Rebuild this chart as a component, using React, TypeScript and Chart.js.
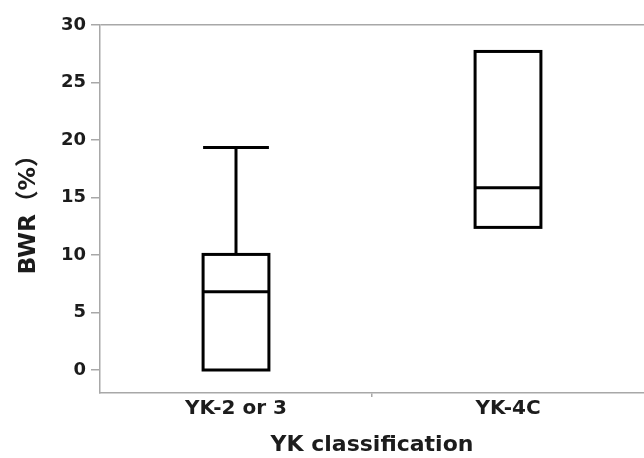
import React, { useEffect, useRef } from 'react';
import { Chart, registerables } from 'chart.js';

Chart.register(...registerables);

const categories = ['YK-2 or 3', 'YK-4C'];
const minValues = [0, 12.4];
const q1Values = [0, 12.4];
const medianValues = [6.8, 15.85];
const q3Values = [10.05, 27.7];
const maxValues = [19.35, 27.7];
const yMin = -2;
const yMax = 30;
const yStep = 5;
const xTitle = 'YK classification';
const yTitle = 'BWR（%）';

const GRAY = '#a8a8a8';
const CLEAR = 'rgba(0,0,0,0)';
const TEXT = '#1c1c1c';
const FONT = "'DejaVu Sans', 'Noto Sans CJK JP', sans-serif";

const boxPlugin = {
  id: 'boxExtras',
  afterDatasetsDraw(chart: any) {
    const meta = chart.getDatasetMeta(0);
    const y = chart.scales.y;
    const ctx = chart.ctx;
    ctx.save();
    ctx.strokeStyle = '#000';
    ctx.lineWidth = 3;
    ctx.lineCap = 'butt';
    ctx.lineJoin = 'miter';
    meta.data.forEach((el: any, i: number) => {
      const half = el.width / 2;
      const x = el.x;
      const line = (x1: number, y1: number, x2: number, y2: number) => {
        ctx.beginPath();
        ctx.moveTo(x1, y1);
        ctx.lineTo(x2, y2);
        ctx.stroke();
      };
      const top = y.getPixelForValue(q3Values[i]);
      const bot = y.getPixelForValue(q1Values[i]);
      ctx.strokeRect(x - half, top, el.width, bot - top);
      const my = y.getPixelForValue(medianValues[i]);
      line(x - half, my, x + half, my);
      if (maxValues[i] > q3Values[i]) {
        const b = y.getPixelForValue(maxValues[i]);
        line(x, top, x, b);
        line(x - half, b, x + half, b);
      }
      if (minValues[i] < q1Values[i]) {
        const b = y.getPixelForValue(minValues[i]);
        line(x, bot, x, b);
        line(x - half, b, x + half, b);
      }
    });
    ctx.restore();
  },
};

export default function App() {
  const ref = useRef<HTMLCanvasElement>(null);
  useEffect(() => {
    document.body.style.margin = '0';
    const chart = new Chart(ref.current as HTMLCanvasElement, {
      type: 'bar',
      data: {
        labels: categories,
        datasets: [
          {
            data: categories.map((_, i) => [q1Values[i], q3Values[i]]) as any,
            backgroundColor: '#ffffff',
            borderWidth: 0,
            categoryPercentage: 1,
            barPercentage: 0.242,
          },
        ],
      },
      options: {
        animation: false,
        responsive: false,
        maintainAspectRatio: false,
        layout: { padding: { top: 25, right: 0, bottom: 0, left: 0 } },
        plugins: { legend: { display: false }, tooltip: { enabled: false } },
        scales: {
          x: {
            type: 'category',
            offset: true,
            afterFit: (s: any) => { s.height = 65; },
            grid: {
              offset: true,
              drawOnChartArea: false,
              tickLength: 4,
              lineWidth: 1.5,
              tickColor: (c: any) => (c.index === 1 ? GRAY : CLEAR),
            },
            border: { display: true, color: GRAY, width: 1.5 },
            ticks: {
              color: TEXT,
              padding: 0,
              font: { family: FONT, size: 20, weight: 'bold' },
            },
            title: {
              display: true,
              text: xTitle,
              color: TEXT,
              padding: { top: 0, bottom: 0 },
              font: { family: FONT, size: 22, weight: 'bold' },
            },
          },
          y: {
            type: 'linear',
            min: yMin,
            max: yMax,
            afterFit: (s: any) => { s.width = 100; },
            afterBuildTicks: (s: any) => {
              s.ticks = s.ticks.filter((t: any) => t.value >= 0);
            },
            grid: {
              drawOnChartArea: true,
              tickLength: 9,
              lineWidth: 1.5,
              color: (c: any) => (c.tick && c.tick.value === yMax ? GRAY : CLEAR),
              tickColor: (c: any) => (c.tick && c.tick.value >= 0 ? GRAY : CLEAR),
            },
            border: { display: true, color: GRAY, width: 1.5 },
            ticks: {
              stepSize: yStep,
              color: TEXT,
              padding: 5,
              font: { family: FONT, size: 18, weight: 'bold' },
            },
            title: {
              display: true,
              text: yTitle,
              color: TEXT,
              padding: { top: 15, bottom: 0 },
              font: { family: FONT, size: 23.5, weight: 'bold' },
            },
          },
        },
      },
      plugins: [boxPlugin],
    } as any);
    return () => chart.destroy();
  }, []);
  return (
    <div style={{ width: 644, height: 458, position: 'relative' }}>
      <canvas ref={ref} width={644} height={458} style={{ display: 'block' }} />
    </div>
  );
}
